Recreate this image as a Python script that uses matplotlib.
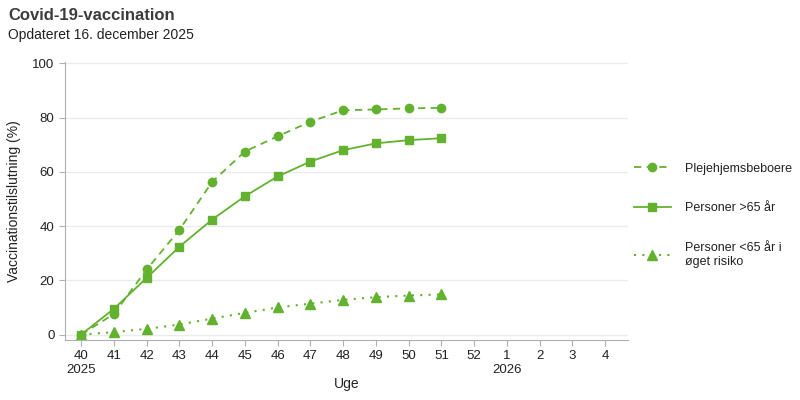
import matplotlib
matplotlib.use("Agg")
import matplotlib.pyplot as plt

plt.rcParams["font.family"] = ["Liberation Sans", "DejaVu Sans"]

WEEKS = ["40", "41", "42", "43", "44", "45", "46", "47", "48", "49", "50", "51",
         "52", "1", "2", "3", "4"]
YEAR_LABELS = {"40": "2025", "1": "2026"}

NURSING_HOME = [0.0, 7.6, 24.0, 38.6, 56.3, 67.5, 73.1, 78.5, 82.7, 83.0, 83.4, 83.6]
OVER_65 = [0.0, 9.5, 20.9, 32.4, 42.4, 51.0, 58.3, 63.8, 68.0, 70.5, 71.7, 72.4]
UNDER_65_RISK = [0.0, 0.9, 2.1, 3.7, 5.9, 8.0, 10.0, 11.4, 12.8, 13.8, 14.4, 14.8]

SERIES_LABELS = ["Plejehjemsbeboere", "Personer >65 år", "Personer <65 år i\nøget risiko"]

GREEN = "#62b22f"
GRID = "#ebebeb"
AXIS = "#b0b0b0"
TEXT = "#222222"
TITLE = "#3c3c3c"


def main():
    fig = plt.figure(figsize=(8, 4), dpi=100)
    ax = fig.add_axes([0.081, 0.15, 0.704, 0.695])

    xs = list(range(len(NURSING_HOME)))
    ax.plot(xs, NURSING_HOME, color=GREEN, linestyle=(0, (4, 3)), linewidth=1.3,
            marker="o", markersize=6, label=SERIES_LABELS[0])
    ax.plot(xs, OVER_65, color=GREEN, linestyle="-", linewidth=1.3,
            marker="s", markersize=5.5, label=SERIES_LABELS[1])
    ax.plot(xs, UNDER_65_RISK, color=GREEN, linestyle=(0, (1, 3)), linewidth=1.5,
            marker="^", markersize=6.5, label=SERIES_LABELS[2])

    ax.set_xlim(-0.5, 16.7)
    ax.set_ylim(-2, 100.5)
    ax.set_xticks(range(len(WEEKS)))
    ax.set_xticklabels([w + "\n" + YEAR_LABELS[w] if w in YEAR_LABELS else w for w in WEEKS])
    ax.set_yticks([0, 20, 40, 60, 80, 100])

    ax.yaxis.grid(True, color=GRID, linewidth=1)
    ax.set_axisbelow(True)
    for side in ("top", "right"):
        ax.spines[side].set_visible(False)
    for side in ("left", "bottom"):
        ax.spines[side].set_color(AXIS)
    ax.tick_params(axis="both", colors=AXIS, labelcolor=TEXT, labelsize=9.5, length=4)
    ax.tick_params(axis="x", pad=3)

    ax.set_xlabel("Uge", fontsize=10, color=TEXT, labelpad=1)
    ax.set_ylabel("Vaccinationstilslutning (%)", fontsize=10, color=TEXT, labelpad=8)

    fig.text(0.01, 0.962, "Covid-19-vaccination", fontsize=12, fontweight="bold",
             color=TITLE, va="center")
    fig.text(0.01, 0.912, "Opdateret 16. december 2025", fontsize=10, color=TEXT, va="center")

    fig.legend(loc="center left", bbox_to_anchor=(0.792, 0.462), frameon=False,
               fontsize=9, labelspacing=2.2, handlelength=3.0, handletextpad=1.1,
               borderpad=0, borderaxespad=0, labelcolor=TEXT)

    fig.savefig("out.png", dpi=100)
    plt.close(fig)


if __name__ == "__main__":
    main()
